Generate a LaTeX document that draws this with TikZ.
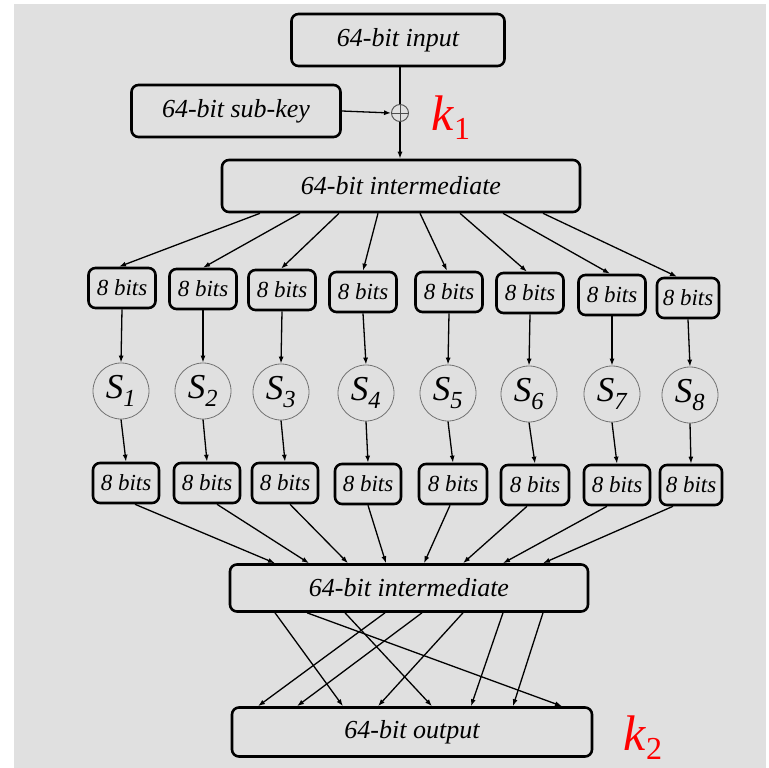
\documentclass[tikz,border=0pt]{standalone}
\usepackage{fontspec}
\setmainfont{Liberation Serif}
\usetikzlibrary{arrows.meta,calc}
\definecolor{bggray}{RGB}{224,224,224}
\newcommand{\klab}[1]{{\itshape k}\raisebox{-9pt}{\fontsize{32}{32}\selectfont #1}}
\begin{document}
\begin{tikzpicture}[x=1pt,y=-1pt,
  box/.style={draw=black,line width=2.6pt,rounded corners=7pt,inner sep=0pt,
    font=\fontsize{26}{26}\selectfont\itshape},
  bitbox/.style={box,minimum height=40pt,font=\fontsize{23}{23}\selectfont\itshape},
  sbox/.style={circle,draw=black!55,line width=0.8pt,minimum size=56pt,inner sep=0pt,
    font=\fontsize{35}{35}\selectfont\itshape},
  conn/.style={line width=1.3pt,-{Latex[length=7pt,width=5pt]}},
  plain/.style={line width=1.3pt},
  klabel/.style={text=red,inner sep=0pt,font=\fontsize{50}{50}\selectfont}]
\useasboundingbox (0,0) rectangle (769,768);
\fill[white] (0,0) rectangle (769,768);
\fill[bggray] (14,4) rectangle (766,768);

% top part
\node[box,minimum width=213pt,minimum height=52pt] (in) at (398,40) {64-bit input};
\node[box,minimum width=209pt,minimum height=52pt] (key) at (236,111) {64-bit sub-key};
\node[circle,draw=black!70,line width=0.9pt,minimum size=17pt,inner sep=0pt] (xor) at (400,113) {};
\node[box,minimum width=358pt,minimum height=52pt] (int1) at (401,186) {64-bit intermediate};
\node[klabel] (k1) at (451,118) {\klab{1}};

\draw[plain] (in.south -| xor) -- (xor.north);
\draw[line width=0.9pt,black!70] (xor.north) -- (xor.south) (xor.west) -- (xor.east);
\draw[conn] (xor.south) -- (xor.south |- int1.north);
\draw[conn] (key.east) -- (xor.west);

% 8-bit boxes, S-boxes
\foreach \i/\x/\y/\w in {1/122/288/67,2/203/289/67,3/282/290/67,4/363/292/67,
                         5/449/292/67,6/530/293/67,7/612/295/67,8/688/298/62}
  \node[bitbox,minimum width=\w pt] (t\i) at (\x,\y) {8 bits};
\foreach \i/\x/\y in {1/121/391,2/203/391,3/281/392,4/366/393,
                      5/448/393,6/529/394,7/612/394,8/690/395}
  \node[sbox] (s\i) at (\x,\y) {S\textsubscript{\i}};
\foreach \i/\x/\y/\w in {1/126/483/66,2/207/483/66,3/285/483/66,4/368/484/66,
                         5/453/484/68,6/535/485/68,7/617/485/66,8/691/485/62}
  \node[bitbox,minimum width=\w pt] (b\i) at (\x,\y) {8 bits};

\foreach \i/\dx/\ex in {1/-141/-3,2/-101/0,3/-62/-1,4/-23/0,5/19/-2,6/59/-3,7/102/-2,8/142/-11}
  \draw[conn] ([xshift=\dx pt]int1.south) -- ([xshift=\ex pt]t\i.north);
\foreach \i in {1,...,8} {
  \draw[conn] (t\i.south) -- (s\i.north);
  \draw[conn] (s\i.south) -- (b\i.north);
}

% second intermediate and output
\node[box,minimum width=358pt,minimum height=47pt] (int2) at (409,588) {64-bit intermediate};
\node[box,minimum width=360pt,minimum height=49pt] (out) at (412,732) {64-bit output};
\node[klabel] (k2) at (643,738) {\klab{2}};

\foreach \i/\sx/\ex in {1/9/-134,2/10/-100,3/5/-61,4/0/-23,5/-3/15,6/-8/54,7/-10/94,8/-18/134}
  \draw[conn] ([xshift=\sx pt]b\i.south) -- ([xshift=\ex pt]int2.north);

\foreach \sx/\ex in {-134/-69,-102/150,-64/20,-24/-154,13/-115,54/-34,94/59,134/101}
  \draw[conn] ([xshift=\sx pt]int2.south) -- ([xshift=\ex pt]out.north);
\end{tikzpicture}
\end{document}
